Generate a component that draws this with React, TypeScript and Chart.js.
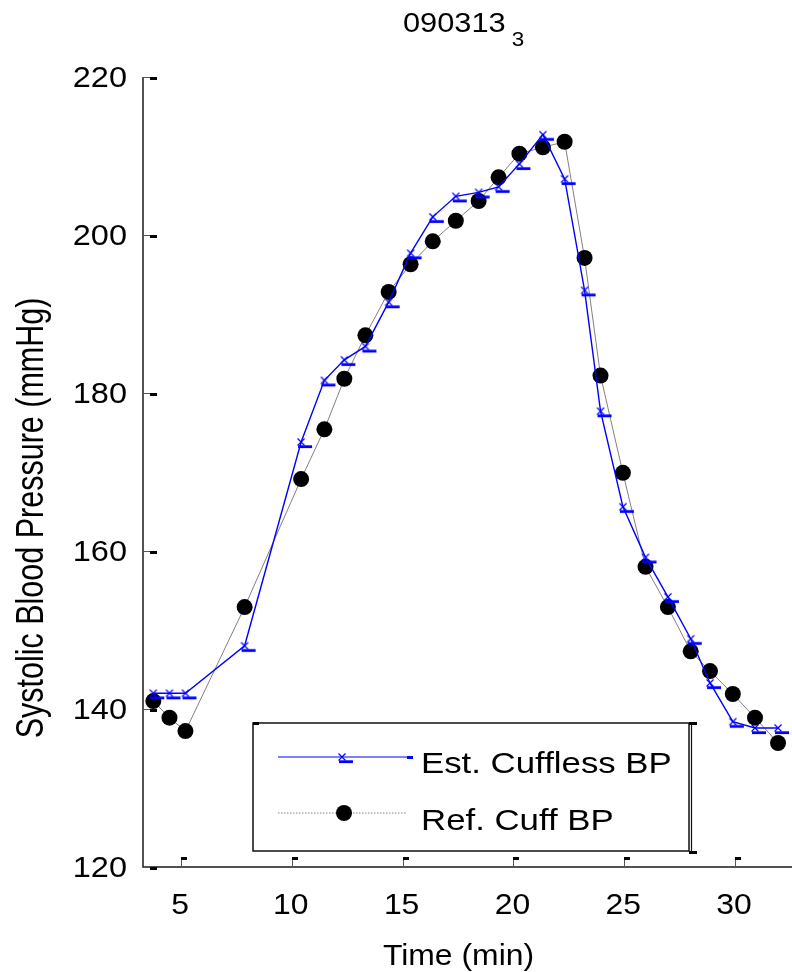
import React, { useEffect, useRef } from "react";
import { Chart, registerables } from "chart.js";

Chart.register(...registerables);

// Sample times (minutes) shared by both series
const timeMin = [
  3.75, 4.48, 5.2, 7.87, 10.42, 11.47, 12.37, 13.32, 14.37, 15.36, 16.36, 17.4,
  18.43, 19.33, 20.27, 21.33, 22.31, 23.21, 23.93, 24.94, 25.96, 26.97, 28.0,
  28.87, 29.9, 30.9, 31.94,
];

// Estimated cuffless systolic BP (mmHg)
const estCuffless = [
  142.0, 142.0, 142.0, 148.0, 173.8, 181.6, 184.2, 185.9, 191.5, 197.7, 202.3,
  204.9, 205.4, 206.1, 209.0, 212.7, 207.1, 193.0, 177.7, 165.6, 159.2, 154.2,
  148.9, 143.3, 138.4, 137.6, 137.6,
];

// Reference cuff systolic BP (mmHg)
const refCuff = [
  141.0, 138.9, 137.2, 152.9, 169.1, 175.4, 181.8, 187.3, 192.8, 196.3, 199.2,
  201.8, 204.3, 207.3, 210.3, 211.1, 211.8, 197.1, 182.2, 169.9, 158.0, 152.9,
  147.3, 144.8, 141.9, 138.9, 135.7,
];

const xTickValues = [5, 10, 15, 20, 25, 30];
const yTickValues = [120, 140, 160, 180, 200, 220];
const xRange = [3.285, 32.57];
const yRange = [120, 220];

const titleMain = "090313";
const titleSub = "3";
const seriesLabels = ["Est. Cuffless BP", "Ref. Cuff BP"];
const xTitle = "Time (min)";
const yTitle = "Systolic Blood Pressure (mmHg)";

const FONT = '"Liberation Sans", Arial, Helvetica, sans-serif';
const BLUE = "#0000ff";
const GREY = "#808080";

// Blue "x" marker with the small bar printed just below-right of it
function makeCrossMarker(): HTMLCanvasElement {
  const c = document.createElement("canvas");
  c.width = 40;
  c.height = 40;
  const g = c.getContext("2d")!;
  g.strokeStyle = BLUE;
  g.lineWidth = 1.2;
  g.beginPath();
  g.moveTo(16.5, 16.5);
  g.lineTo(23.5, 23.5);
  g.moveTo(23.5, 16.5);
  g.lineTo(16.5, 23.5);
  g.stroke();
  g.fillStyle = BLUE;
  g.fillRect(17, 23.3, 14, 2.8);
  return c;
}

function drawText(
  ctx: CanvasRenderingContext2D,
  s: string,
  x: number,
  y: number,
  size: number,
  align: CanvasTextAlign,
  baseline: CanvasTextBaseline,
  sx: number
) {
  ctx.save();
  ctx.font = `${size}px ${FONT}`;
  ctx.textAlign = align;
  ctx.textBaseline = baseline;
  ctx.fillStyle = "#000";
  ctx.translate(x, y);
  ctx.scale(sx, 1);
  ctx.fillText(s, 0, 0);
  ctx.restore();
}

export default function App() {
  const canvasRef = useRef<HTMLCanvasElement | null>(null);

  useEffect(() => {
    document.body.style.margin = "0";
    const canvas = canvasRef.current;
    if (!canvas) return;
    const cross = makeCrossMarker();

    const decorations = {
      id: "decorations",
      afterDatasetsDraw(chart: any) {
        const ctx: CanvasRenderingContext2D = chart.ctx;
        const { left, right, top, bottom } = chart.chartArea;
        const xs = chart.scales.x;
        const ys = chart.scales.y;

        // axis lines
        ctx.save();
        ctx.strokeStyle = "#1a1a1a";
        ctx.lineWidth = 1.5;
        ctx.beginPath();
        ctx.moveTo(left, top);
        ctx.lineTo(left, bottom);
        ctx.lineTo(right, bottom);
        ctx.stroke();

        // inward ticks on the y axis
        yTickValues.forEach((v) => {
          const py = Math.round(ys.getPixelForValue(v));
          ctx.strokeStyle = "#555";
          ctx.lineWidth = 1;
          ctx.beginPath();
          ctx.moveTo(left, py + 0.5);
          ctx.lineTo(left + 8, py + 0.5);
          ctx.stroke();
          ctx.fillStyle = "#000";
          ctx.fillRect(left + 7, py, 7, 3);
        });

        // inward ticks on the x axis
        xTickValues.forEach((v) => {
          const px = Math.round(xs.getPixelForValue(v));
          ctx.strokeStyle = "#555";
          ctx.lineWidth = 1;
          ctx.beginPath();
          ctx.moveTo(px + 0.5, bottom);
          ctx.lineTo(px + 0.5, bottom - 10);
          ctx.stroke();
          ctx.fillStyle = "#000";
          ctx.fillRect(px, bottom - 10, 6, 3);
        });
        ctx.restore();

        // tick labels
        yTickValues.forEach((v) => {
          const py = ys.getPixelForValue(v);
          drawText(ctx, String(v), left - 16, py + 1.5, 29, "right", "middle", 1.12);
        });
        xTickValues.forEach((v) => {
          const px = xs.getPixelForValue(v);
          drawText(ctx, String(v), px - 1, bottom + 47, 29, "center", "alphabetic", 1.1);
        });

        // axis titles
        drawText(ctx, xTitle, (left + right) / 2 - 9, bottom + 98, 29, "center", "alphabetic", 1.1);
        ctx.save();
        ctx.font = `30.5px ${FONT}`;
        ctx.textAlign = "center";
        ctx.textBaseline = "alphabetic";
        ctx.fillStyle = "#000";
        ctx.translate(left - 100, (top + bottom) / 2 + 46);
        ctx.rotate(-Math.PI / 2);
        ctx.scale(1, 1.3);
        ctx.fillText(yTitle, 0, 0);
        ctx.restore();

        // title with subscript
        ctx.save();
        ctx.font = `28px ${FONT}`;
        const wMain = ctx.measureText(titleMain).width * 1.1;
        ctx.font = `20px ${FONT}`;
        const wSub = ctx.measureText(titleSub).width * 1.12;
        ctx.restore();
        const gap = 6;
        const tx = (left + right) / 2 - 4 - (wMain + gap + wSub) / 2;
        drawText(ctx, titleMain, tx, top - 45, 28, "left", "alphabetic", 1.1);
        drawText(ctx, titleSub, tx + wMain + gap, top - 31, 20, "left", "alphabetic", 1.12);

        // legend box
        const lx0 = left + 110;
        const ly0 = bottom - 144;
        const lx1 = left + 546;
        const ly1 = bottom - 16;
        ctx.save();
        ctx.fillStyle = "#fff";
        ctx.fillRect(lx0, ly0, lx1 - lx0, ly1 - ly0);
        ctx.strokeStyle = "#111";
        ctx.lineWidth = 1.5;
        ctx.strokeRect(lx0, ly0, lx1 - lx0, ly1 - ly0);
        ctx.lineWidth = 1.2;
        ctx.beginPath();
        ctx.moveTo(lx1 + 2.5, ly0 - 1);
        ctx.lineTo(lx1 + 2.5, ly1 + 2);
        ctx.stroke();
        ctx.fillStyle = "#000";
        ctx.fillRect(lx0, ly0 - 1, 6, 3);
        ctx.fillRect(lx1, ly0 - 1, 8, 3);
        ctx.fillRect(lx1, ly1, 8, 3);

        // legend entry 1: blue line with cross marker
        const row1 = ly0 + 34;
        ctx.strokeStyle = BLUE;
        ctx.lineWidth = 1.2;
        ctx.beginPath();
        ctx.moveTo(lx0 + 25, row1);
        ctx.lineTo(lx0 + 154, row1);
        ctx.stroke();
        ctx.drawImage(cross, lx0 + 89 - 20, row1 - 20);
        ctx.fillStyle = BLUE;
        ctx.fillRect(lx0 + 154, row1 - 1, 6, 3);

        // legend entry 2: dotted grey line with filled circle
        const row2 = ly0 + 90;
        ctx.strokeStyle = GREY;
        ctx.lineWidth = 1;
        ctx.setLineDash([1.5, 1.5]);
        ctx.beginPath();
        ctx.moveTo(lx0 + 25, row2);
        ctx.lineTo(lx0 + 154, row2);
        ctx.stroke();
        ctx.setLineDash([]);
        ctx.fillStyle = "#000";
        ctx.beginPath();
        ctx.arc(lx0 + 91, row2, 8, 0, Math.PI * 2);
        ctx.fill();
        ctx.restore();

        drawText(ctx, seriesLabels[0], lx0 + 168, row1 + 16, 30, "left", "alphabetic", 1.16);
        drawText(ctx, seriesLabels[1], lx0 + 168, row2 + 17, 30, "left", "alphabetic", 1.16);
      },
    };

    const chart = new Chart(canvas, {
      type: "line",
      data: {
        datasets: [
          {
            label: seriesLabels[0],
            data: timeMin.map((t, i) => ({ x: t, y: estCuffless[i] })),
            borderColor: BLUE,
            borderWidth: 1.4,
            pointStyle: cross as any,
            pointRadius: 4,
            tension: 0,
          },
          {
            label: seriesLabels[1],
            data: timeMin.map((t, i) => ({ x: t, y: refCuff[i] })),
            borderColor: GREY,
            borderWidth: 1,
            pointStyle: "circle",
            pointRadius: 8,
            pointBorderWidth: 0,
            pointBackgroundColor: "#000",
            pointBorderColor: "#000",
            tension: 0,
          },
        ],
      },
      options: {
        responsive: false,
        animation: false,
        devicePixelRatio: 1,
        layout: {
          autoPadding: false,
          padding: { left: 143, top: 77, right: 0, bottom: 105 },
        },
        plugins: {
          legend: { display: false },
          title: { display: false },
          tooltip: { enabled: false },
        },
        scales: {
          x: {
            type: "linear",
            min: xRange[0],
            max: xRange[1],
            grid: { display: false, drawTicks: false },
            border: { display: false },
            ticks: { display: false },
            afterFit: (s: any) => {
              s.height = 0;
            },
          },
          y: {
            type: "linear",
            min: yRange[0],
            max: yRange[1],
            grid: { display: false, drawTicks: false },
            border: { display: false },
            ticks: { display: false },
            afterFit: (s: any) => {
              s.width = 0;
            },
          },
        },
      },
      plugins: [decorations],
    });

    return () => chart.destroy();
  }, []);

  return (
    <div style={{ width: 792, height: 972, background: "#fff" }}>
      <canvas ref={canvasRef} width={792} height={972} style={{ display: "block" }} />
    </div>
  );
}
